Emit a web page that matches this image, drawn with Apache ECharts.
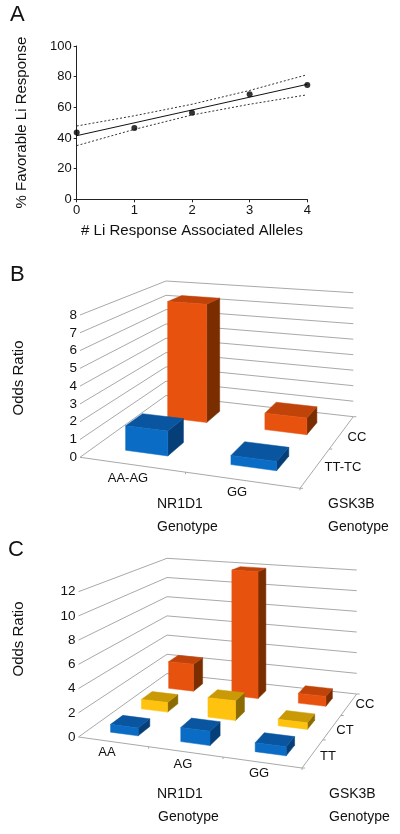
<!DOCTYPE html>
<html><head><meta charset="utf-8">
<style>html,body{margin:0;padding:0;background:#fff}#c{width:400px;height:834px}</style>
<script src="https://cdn.jsdelivr.net/npm/echarts@6/dist/echarts.min.js"></script></head>
<body><div id="c"></div>
<script>
// ---- Panel A data
var aAlleles=[0,1,2,3,4];
var aObserved=[43.5,46.5,56.5,68.5,74.5];
var aFitX=[0,4];
var aFit=[41.5,75];
var aCiX=[0,1,2,3,3.97];
var aUpper=[47.8,54.5,62,71,81];
var aLower=[35,45.6,55,62,68];
// ---- Panel B data
var bColumns=['AA-AG','GG'];
var bRows=['TT-TC','CC'];
var bTicks=[0,1,2,3,4,5,6,7,8];
var bTT_TC=[1.4,0.5];
var bCC=[7.4,1.0];
// ---- Panel C data
var cColumns=['AA','AG','GG'];
var cRows=['TT','CT','CC'];
var cTicks=[0,2,4,6,8,10,12];
var cTT=[0.65,1.15,0.7];
var cCT=[0.85,1.7,0.55];
var cCC=[2.6,11.9,0.9];

var FONT='"Liberation Sans",Arial,sans-serif';
var ORANGE=['#E8520F','#C0440A','#7A2E00'];
var BLUE=['#0A6CC4','#0A559F','#063F78'];
var YELLOW=['#FFC20E','#C99A06','#8C6C00'];

function makeProjection(q){
  var p0=q.FL,p1=q.FR,p2=q.BR,p3=q.BL;
  var dx3=p0[0]-p1[0]+p2[0]-p3[0],dy3=p0[1]-p1[1]+p2[1]-p3[1];
  var dx1=p1[0]-p2[0],dy1=p1[1]-p2[1],dx2=p3[0]-p2[0],dy2=p3[1]-p2[1];
  var den=dx1*dy2-dx2*dy1;
  var g=(dx3*dy2-dx2*dy3)/den,h=(dx1*dy3-dx3*dy1)/den;
  var a=p1[0]-p0[0]+g*p1[0],b=p3[0]-p0[0]+h*p3[0];
  var d=p1[1]-p0[1]+g*p1[1],e=p3[1]-p0[1]+h*p3[1];
  var hFL=q.H[0],hFR=hFL/(1+g),hBR=q.H[1],hBL=q.H[2];
  return function(u,v,w){
    var z=g*u+h*v+1;
    var x=(a*u+b*v+p0[0])/z,y=(d*u+e*v+p0[1])/z;
    var ht=(1-u)*(1-v)*hFL+u*(1-v)*hFR+u*v*hBR+(1-u)*v*hBL;
    return [x,y-w*ht];
  };
}
function norm(api,params,x,val){
  var pt=api.coord([x,val]);
  var r=params.coordSys;
  return {u:(pt[0]-r.x)/r.width,w:(r.y+r.height-pt[1])/r.height};
}
function wallSeries(idx,proj,nC,nR,ticks,lineColor){
  return {type:'custom',xAxisIndex:idx,yAxisIndex:idx,silent:true,clip:false,z:1,
    data:ticks.map(function(t){return [0,t];}),encode:{x:0,y:1},
    renderItem:function(params,api){
      var n=norm(api,params,0,api.value(1));
      var w=n.w;
      var kids=[{type:'polyline',shape:{points:[proj(0,0,w),proj(0,1,w),proj(1,1,w)]},
        style:{fill:null,stroke:lineColor,lineWidth:1}}];
      if(api.value(1)===0){
        kids.push({type:'polyline',shape:{points:[proj(0,0,0),proj(1,0,0),proj(1,1,0)]},
          style:{fill:null,stroke:lineColor,lineWidth:1}});
        for(var i=1;i<=nC;i++){var a=proj(i/nC,0,0);
          kids.push({type:'line',shape:{x1:a[0],y1:a[1],x2:a[0],y2:a[1]+2},style:{stroke:lineColor,lineWidth:1}});}
        for(var j=0;j<=nR;j++){var b=proj(1,j/nR,0);
          kids.push({type:'line',shape:{x1:b[0],y1:b[1],x2:b[0]+3,y2:b[1]},style:{stroke:lineColor,lineWidth:1}});}
      }
      return {type:'group',children:kids};
    }};
}
function barSeries(idx,proj,nR,rowVals,colors,bw,bd,uShift){
  var items=[];
  for(var r=nR-1;r>=0;r--){rowVals[r].forEach(function(v,c){items.push([c,v,r]);});}
  var nC=rowVals[0].length;
  return {type:'custom',xAxisIndex:idx,yAxisIndex:idx,silent:true,clip:false,z:2,
    data:items,encode:{x:0,y:1},
    renderItem:function(params,api){
      var c=api.value(0),v=api.value(1),r=api.value(2);
      var n=norm(api,params,c,v);
      var uc=n.u+uShift;
      var u0=uc-bw/nC/2,u1=uc+bw/nC/2;
      var vc=(r+0.5)/nR,v0=vc-bd/nR/2,v1=vc+bd/nR/2,w=n.w;
      var col=colors[r];
      function face(pts,f){return {type:'polygon',shape:{points:pts},style:{fill:f,stroke:f,lineWidth:0.5}};}
      return {type:'group',children:[
        face([proj(u1,v0,0),proj(u1,v1,0),proj(u1,v1,w),proj(u1,v0,w)],col[2]),
        face([proj(u0,v0,w),proj(u1,v0,w),proj(u1,v1,w),proj(u0,v1,w)],col[1]),
        face([proj(u0,v0,0),proj(u1,v0,0),proj(u1,v0,w),proj(u0,v0,w)],col[0])
      ]};
    }};
}
function txt(s,x,y,size,align,rot){
  return {type:'text',x:x,y:y,rotation:rot||0,z:10,
    style:{text:s,font:size+'px '+FONT,fill:'#111',textAlign:align||'center',textVerticalAlign:'middle'}};
}
var bBox={FL:[80,457.3],FR:[300,488.3],BR:[353.3,416.7],BL:[166,395.5],H:[142.3,124,114.5]};
var cBox={FL:[78.5,737],FR:[302,768],BR:[356.7,694],BL:[167,673.5],H:[145.3,124,115.2]};
var bProj=makeProjection(bBox),cProj=makeProjection(cBox);
var gridLine='#A9A9A9';
var axisLbl={fontFamily:FONT,fontSize:13.5,color:'#111'};

var option={
  animation:false,backgroundColor:'#fff',
  grid:[
    {left:76.7,top:46,width:230.6,height:153.3},
    {left:80,top:315,width:220,height:142.3},
    {left:78.5,top:591.7,width:223.5,height:145.3}
  ],
  xAxis:[
    {gridIndex:0,type:'value',min:0,max:4,interval:1,splitLine:{show:false},
     axisLine:{lineStyle:{color:'#222'}},axisTick:{length:3,lineStyle:{color:'#222'}},
     axisLabel:{fontFamily:FONT,fontSize:13,color:'#111',margin:5},
     name:'# Li Response Associated Alleles',nameLocation:'middle',nameGap:24,
     nameTextStyle:{fontFamily:FONT,fontSize:15,color:'#111'}},
    {gridIndex:1,type:'category',data:bColumns,show:false},
    {gridIndex:2,type:'category',data:cColumns,show:false}
  ],
  yAxis:[
    {gridIndex:0,type:'value',min:0,max:100,interval:20,splitLine:{show:false},
     axisLine:{show:true,lineStyle:{color:'#222'}},axisTick:{show:true,length:3,lineStyle:{color:'#222'}},
     axisLabel:{fontFamily:FONT,fontSize:13,color:'#111',margin:5},
     name:'% Favorable Li Response',nameLocation:'middle',nameGap:47,
     nameTextStyle:{fontFamily:FONT,fontSize:15,color:'#111'}},
    {gridIndex:1,type:'value',min:0,max:8,interval:1,splitLine:{show:false},
     axisLine:{show:false},axisTick:{show:false},axisLabel:Object.assign({margin:3},axisLbl)},
    {gridIndex:2,type:'value',min:0,max:12,interval:2,splitLine:{show:false},
     axisLine:{show:false},axisTick:{show:false},axisLabel:Object.assign({margin:3},axisLbl)}
  ],
  series:[
    {type:'line',xAxisIndex:0,yAxisIndex:0,symbol:'none',data:aFitX.map(function(x,i){return [x,aFit[i]];}),lineStyle:{color:'#111',width:1},z:2},
    {type:'line',xAxisIndex:0,yAxisIndex:0,symbol:'none',data:aCiX.map(function(x,i){return [x,aUpper[i]];}),lineStyle:{color:'#333',width:1,type:[2,2]},z:2},
    {type:'line',xAxisIndex:0,yAxisIndex:0,symbol:'none',data:aCiX.map(function(x,i){return [x,aLower[i]];}),lineStyle:{color:'#333',width:1,type:[2,2]},z:2},
    {type:'scatter',xAxisIndex:0,yAxisIndex:0,symbolSize:6,clip:false,data:aAlleles.map(function(x,i){return [x,aObserved[i]];}),itemStyle:{color:'#000'},z:3},
    wallSeries(1,bProj,bColumns.length,bRows.length,bTicks,gridLine),
    barSeries(1,bProj,bRows.length,[bTT_TC,bCC],[BLUE,ORANGE],0.41,0.38,0.003),
    wallSeries(2,cProj,cColumns.length,cRows.length,cTicks,gridLine),
    barSeries(2,cProj,cRows.length,[cTT,cCT,cCC],[BLUE,YELLOW,ORANGE],0.4,0.38,0.005)
  ],
  graphic:[
    txt('A',10,15,22,'left'),txt('B',10,275,22,'left'),txt('C',8,550,22,'left'),
    txt('Odds Ratio',19,378,15,'center',Math.PI/2),
    txt('AA-AG',128,478,13),txt('GG',237,492,13),
    txt(bRows[1],357,437,13),txt(bRows[0],343,467,13),
    txt('NR1D1',157,504,14,'left'),txt('Genotype',157,527,14,'left'),
    txt('GSK3B',328,504,14,'left'),txt('Genotype',328,527,14,'left'),
    txt('Odds Ratio',19,639,15,'center',Math.PI/2),
    txt('AA',107,752,13),txt('AG',183,764,13),txt('GG',259,773,13),
    txt('CC',365,704,13),txt('CT',345,730,13),txt('TT',328,756,13),
    txt('NR1D1',157,794,14,'left'),txt('Genotype',158,817,14,'left'),
    txt('GSK3B',329,794,14,'left'),txt('Genotype',329,817,14,'left')
  ]
};
echarts.init(document.getElementById('c'),null,{renderer:'canvas'}).setOption(option);
</script></body></html>
